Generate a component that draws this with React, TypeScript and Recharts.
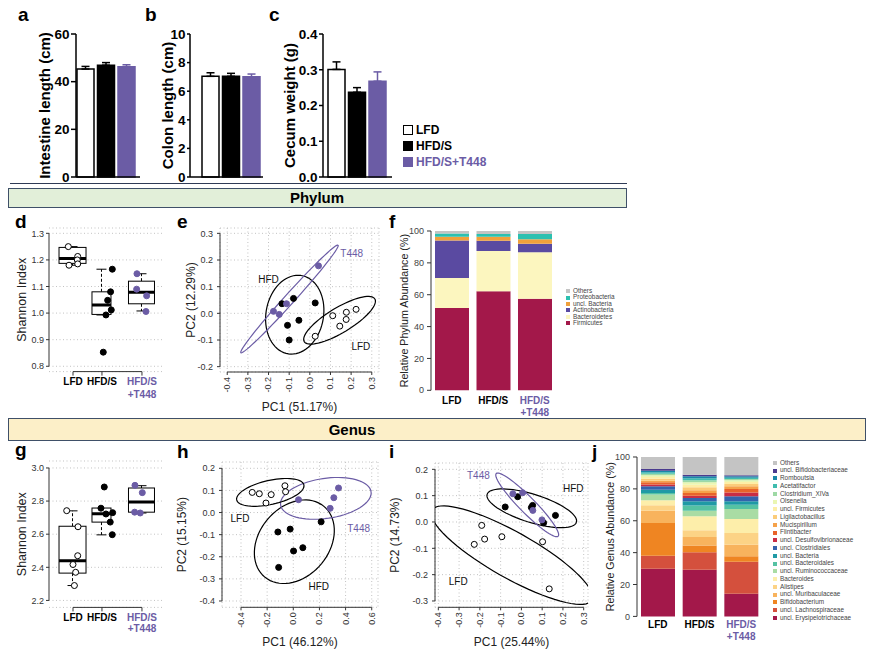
import React from 'react'
import {
  BarChart, Bar, ErrorBar, XAxis, YAxis, CartesianGrid, Legend,
  ScatterChart, Scatter, ComposedChart, ReferenceLine, ReferenceDot,
} from 'recharts'

const PURPLE = '#6b5ca5'
const INK = '#333'
const GRID = '#c2c2c2'

// groups
const GROUPS = ['LFD', 'HFD/S', 'HFD/S+T448']
const GROUP_LINES = [['LFD'], ['HFD/S'], ['HFD/S', '+T448']]
const GROUP_TEXT = ['#000', '#000', PURPLE]
const BAR_FILL = ['#fff', '#000', PURPLE]
const BAR_STROKE = ['#000', '#000', PURPLE]

// a-c
const INTESTINE = [45.3, 46.9, 46.3]
const INTESTINE_SEM = [1.1, 1.1, 0.8]
const COLON = [7.04, 7.04, 7.01]
const COLON_SEM = [0.25, 0.21, 0.19]
const CECUM = [0.301, 0.237, 0.268]
const CECUM_SEM = [0.021, 0.013, 0.026]

// box plots: [lo, q1, median, q3, hi]
const GROUP_X = [1, 1.84, 3]
const BOX_W = [27, 19, 26]
const D_BOX = [[1.18, 1.187, 1.205, 1.247, 1.25], [0.993, 0.995, 1.03, 1.08, 1.165], [1.008, 1.035, 1.078, 1.12, 1.148]]
const D_LFD = [[0.864, 1.25], [1.136, 1.213], [1.125, 1.2], [0.884, 1.18], [1.136, 1.185]]
const D_HFD = [[2.14, 1.165], [2.09, 1.08], [2.005, 1.048], [2.11, 1.012], [1.956, 0.993], [1.878, 0.853]]
const D_T448 = [[2.855, 1.148], [2.846, 1.09], [3.136, 1.065], [3.116, 1.006]]
const D_TICKS = [0.8, 0.9, 1.0, 1.1, 1.2, 1.3]

const G_BOX = [[2.29, 2.365, 2.44, 2.648, 2.741], [2.596, 2.673, 2.723, 2.758, 2.758], [2.728, 2.733, 2.794, 2.879, 2.893]]
const G_LFD = [[0.817, 2.742], [1.145, 2.645], [1.136, 2.47], [1.0, 2.417], [1.077, 2.37], [1.04, 2.29]]
const G_HFD = [[1.907, 2.885], [1.811, 2.757], [1.956, 2.722], [2.15, 2.73], [2.08, 2.673], [2.139, 2.597]]
const G_T448 = [[2.797, 2.895], [3.01, 2.851], [2.788, 2.733], [2.95, 2.728]]
const G_TICKS = [2.2, 2.4, 2.6, 2.8, 3.0]

// PCA scores
const E_LFD = [[0.111, -0.009], [0.177, 0.004], [0.224, 0.015], [0.176, -0.023], [0.145, -0.048], [0.026, -0.086]]
const E_HFD = [[-0.135, 0.036], [-0.079, 0.056], [0.026, 0.039], [-0.108, -0.045], [-0.053, -0.026], [-0.1, -0.1]]
const E_T448 = [[0.042, 0.178], [-0.113, 0.036], [-0.176, 0.0075], [-0.148, -0.004]]
const H_LFD = [[-0.314, 0.091], [-0.26, 0.085], [-0.169, 0.081], [-0.209, 0.043], [-0.064, 0.121], [-0.059, 0.094]]
const H_HFD = [[0.213, -0.042], [-0.118, -0.088], [-0.024, -0.075], [0.073, -0.159], [0.002, -0.174], [-0.112, -0.248]]
const H_T448 = [[0.04, 0.058], [0.31, 0.067], [0.346, 0.111], [0.282, 0.019]]
const I_LFD = [[-0.191, -0.013], [-0.227, -0.085], [-0.177, -0.065], [-0.094, -0.056], [0.102, -0.075], [0.134, -0.254]]
const I_HFD = [[-0.078, 0.057], [-0.018, 0.096], [0.054, 0.063], [0.048, 0.055], [0.164, 0.025], [0.107, -0.003]]
const I_T448 = [[-0.041, 0.107], [0.006, 0.111], [0.055, 0.044], [0.099, 0.008]]

// ellipses: [cx, cy, ux, uy, vx, vy]
const E_ELL = [[-0.073, -0.005, 0.03, 0.147, 0.138, -0.015], [-0.0985, 0.054, 0.2355, 0.2018, 0.018, -0.0125], [0.144, -0.026, 0.171, 0.08, 0.031, -0.04]]
const H_ELL = [[0.008, -0.132, 0.205, 0.169, 0.227, -0.0846], [0.249, 0.064, 0.346, 0.03, 0.022, -0.0896], [-0.176, 0.091, 0.257, 0.034, 0.02, -0.053]]
const I_ELL = [[0.05, 0.052, 0.215, -0.053, -0.02, -0.051], [0.028, 0.065, 0.149, -0.119, -0.027, -0.021], [-0.046, -0.126, 0.385, -0.171, -0.054, -0.076]]
const ELL_COLOR = ['#000', PURPLE, '#000']

const E_XT = [-0.4, -0.3, -0.2, -0.1, 0, 0.1, 0.2, 0.3]
const E_YT = [-0.2, -0.1, 0, 0.1, 0.2, 0.3]
const H_XT = [-0.4, -0.2, 0, 0.2, 0.4, 0.6]
const H_YT = [-0.4, -0.3, -0.2, -0.1, 0, 0.1, 0.2]
const I_XT = [-0.4, -0.3, -0.2, -0.1, 0, 0.1, 0.2, 0.3]
const I_YT = [-0.3, -0.2, -0.1, 0, 0.1, 0.2]

// phylum
const PHY_NAMES = ['Firmicutes', 'Bacteroidetes', 'Actinobacteria', 'uncl. Bacteria', 'Proteobacteria', 'Others']
const PHY_COLORS = ['#a3184a', '#fcf6bf', '#5a4aa1', '#f0a03b', '#2cc0b0', '#c4c4c4']
const PHY_LFD = [51.7, 18.8, 23.6, 2.3, 2.1, 1.5]
const PHY_HFD = [62.1, 25.3, 6.5, 2.5, 1.7, 1.9]
const PHY_T448 = [57.5, 29.1, 5.4, 2.8, 3.3, 1.9]

// genus
const GEN_NAMES = [
  'uncl. Erysipelotrichaceae', 'uncl. Lachnospiraceae', 'Bifidobacterium', 'uncl. Muribaculaceae', 'Alistipes',
  'Bacteroides', 'uncl. Ruminococcaceae', 'uncl. Bacteroidales', 'uncl. Bacteria', 'uncl. Clostridiales',
  'uncl. Desulfovibrionaceae', 'Flintibacter', 'Mucispirillum', 'Ligilactobacillus', 'uncl. Firmicutes',
  'Olsenella', 'Clostridium_XIVa', 'Acetatifactor', 'Romboutsia', 'uncl. Bifidobacteriaceae', 'Others',
]
const GEN_COLORS = [
  '#a3184a', '#d4503d', '#ef8522', '#f8b35d', '#fcd386', '#fdeeaa', '#a9dca4', '#55c2a3', '#1f9aa5', '#3463ad',
  '#c92d45', '#e8632a', '#f5a24a', '#fbcc7a', '#fdeea6', '#eaf6b2', '#9ed9a5', '#3fbcae', '#1a87a8', '#4a3b8e', '#c4c4c4',
]
const GEN_LFD = [29.9, 8.2, 20.5, 7.7, 3.4, 3.1, 3.6, 1.0, 2.1, 2.1, 1.2, 1.3, 1.0, 1.3, 1.0, 1.1, 1.0, 0.9, 1.0, 1.1, 7.5]
const GEN_HFD = [29.3, 10.9, 4.2, 5.4, 4.2, 8.8, 3.5, 3.2, 2.7, 2.1, 1.4, 1.7, 1.7, 1.9, 1.6, 1.5, 1.3, 1.2, 1.3, 1.0, 11.1]
const GEN_T448 = [14.2, 20.1, 3.4, 7.3, 7.3, 8.8, 6.3, 2.7, 2.1, 3.1, 2.5, 2.1, 1.7, 1.5, 1.2, 1.1, 0.8, 0.8, 0.9, 0.6, 11.5]

const f1 = (v: number) => v.toFixed(1)
const toPts = (a: number[][]) => a.map(([x, y]) => ({ x, y }))
const ring = (e: number[]) =>
  Array.from({ length: 73 }, (_, k) => {
    const t = (k / 72) * 2 * Math.PI
    return { x: e[0] + Math.cos(t) * e[2] + Math.sin(t) * e[4], y: e[1] + Math.cos(t) * e[3] + Math.sin(t) * e[5] }
  })
const Dot = (fill: string, stroke: string) => (p: any) =>
  <circle cx={p.cx} cy={p.cy} r={3} fill={fill} stroke={stroke} strokeWidth={1} />

type M = { top: number; right: number; bottom: number; left: number }
function frame(x0: number, y0: number, x1: number, y1: number, yw: number, xh: number, m: M) {
  return {
    left: x0 - yw - m.left, top: y0 - m.top,
    width: x1 - x0 + yw + m.left + m.right, height: y1 - y0 + xh + m.top + m.bottom,
    margin: m, yw, xh,
  }
}

const RotTick = (p: any) => (
  <text x={p.x} y={p.y} transform={`rotate(-90 ${p.x} ${p.y})`} textAnchor="end" dy="0.33em" fontSize={9} fill={INK}>
    {f1(p.payload.value)}
  </text>
)

const groupTick = (dy0: number, lh: number, idx: (v: any) => number) => (p: any) => {
  const i = idx(p.payload.value)
  return (
    <text x={p.x} y={p.y} textAnchor="middle" fontSize={10} fontWeight="bold" fill={GROUP_TEXT[i]}>
      {GROUP_LINES[i].map((l, k) => <tspan key={k} x={p.x} dy={k === 0 ? dy0 : lh}>{l}</tspan>)}
    </text>
  )
}

function MeasureChart({ f, vals, sem, domain, ticks, fmt, title, titleX, pad, tickSize = 5, children }: any) {
  const row: any = { name: 'all' }
  GROUPS.forEach((_, i) => { row['v' + i] = vals[i]; row['e' + i] = [0, sem[i]] })
  return (
    <div style={{ position: 'absolute', left: f.left, top: f.top }}>
      <BarChart width={f.width} height={f.height} margin={f.margin} data={[row]} barGap={3.5}>
        <XAxis dataKey="name" tick={false} tickLine={false} height={f.xh} axisLine={{ stroke: '#000', strokeWidth: 1.5 }} padding={pad} />
        <YAxis domain={domain} ticks={ticks} interval={0} width={f.yw} tickSize={tickSize} tickMargin={1.5} tickFormatter={fmt}
          axisLine={{ stroke: '#000', strokeWidth: 1.5 }} tickLine={{ stroke: '#000', strokeWidth: 1.5 }}
          tick={{ fontSize: 13.5, fontWeight: 'bold', fill: '#000' }}
          label={{ value: title, angle: -90, position: 'insideLeft', offset: titleX - f.left - f.margin.left, style: { textAnchor: 'middle', fontWeight: 'bold', fontSize: 15, fill: '#000' } }} />
        {GROUPS.map((g, i) => (
          <Bar key={g} dataKey={'v' + i} name={g} fill={BAR_FILL[i]} stroke={BAR_STROKE[i]} strokeWidth={1.5} barSize={17} isAnimationActive={false}>
            <ErrorBar dataKey={'e' + i} width={4} strokeWidth={1.5} stroke={BAR_STROKE[i]} direction="y" isAnimationActive={false} />
          </Bar>
        ))}
        {children}
      </BarChart>
    </div>
  )
}

const BoxShape = (p: any) => {
  const { x, y, width, height, index } = p
  const s = p.payload.s
  const k = height / (s[3] - s[1])
  const yv = (v: number) => y + (s[3] - v) * k
  const cx = x + width / 2
  const bw = BOX_W[index]
  const cap = 10
  return (
    <g>
      {s[4] > s[3] && <line x1={cx} x2={cx} y1={yv(s[3])} y2={yv(s[4])} stroke="#000" strokeDasharray="3 2" />}
      {s[4] > s[3] && <line x1={cx - cap / 2} x2={cx + cap / 2} y1={yv(s[4])} y2={yv(s[4])} stroke="#000" />}
      {s[0] < s[1] && <line x1={cx} x2={cx} y1={yv(s[1])} y2={yv(s[0])} stroke="#000" strokeDasharray="3 2" />}
      {s[0] < s[1] && <line x1={cx - cap / 2} x2={cx + cap / 2} y1={yv(s[0])} y2={yv(s[0])} stroke="#000" />}
      <rect x={cx - bw / 2} y={y} width={bw} height={height} fill="#fff" stroke="#000" strokeWidth={1} />
      <line x1={cx - bw / 2} x2={cx + bw / 2} y1={yv(s[2])} y2={yv(s[2])} stroke="#000" strokeWidth={3} />
    </g>
  )
}

const BOX_XD = [0.304, 3.61]

function BoxChart({ f, yd, yt, box, sets, title, titleX, dy0, lh }: any) {
  const rows = GROUP_X.map((pos, i) => ({ pos, box: [box[i][1], box[i][3]], s: box[i] }))
  return (
    <div style={{ position: 'absolute', left: f.left, top: f.top }}>
      <ComposedChart width={f.width} height={f.height} margin={f.margin} data={rows}>
        <CartesianGrid vertical={false} stroke={GRID} strokeDasharray="1 2.5" />
        <XAxis type="number" dataKey="pos" domain={BOX_XD} ticks={GROUP_X} interval={0} allowDataOverflow axisLine={false}
          tickLine={{ stroke: INK }} tickSize={4} tickMargin={0} height={f.xh}
          tick={groupTick(dy0, lh, (v) => GROUP_X.indexOf(v))} />
        <XAxis xAxisId="p" type="number" dataKey="x" domain={BOX_XD} allowDataOverflow hide />
        <YAxis type="number" domain={yd} ticks={yt} interval={0} allowDataOverflow axisLine={false}
          tickLine={{ stroke: INK }} tickSize={3} tickMargin={2} tick={{ fontSize: 9, fill: INK }} tickFormatter={f1} width={f.yw}
          label={{ value: title, angle: -90, position: 'insideLeft', offset: titleX - f.left - f.margin.left, fontSize: 12.5, fill: '#222', style: { textAnchor: 'middle' } }} />
        <ReferenceLine segment={[{ x: BOX_XD[0], y: yt[0] }, { x: BOX_XD[0], y: yt[yt.length - 1] }]} stroke={INK} ifOverflow="visible" />
        <ReferenceLine segment={[{ x: GROUP_X[0], y: yd[0] }, { x: GROUP_X[2], y: yd[0] }]} stroke={INK} ifOverflow="visible" />
        <Bar dataKey="box" shape={BoxShape} barSize={20} isAnimationActive={false} />
        {sets.map((st: any, i: number) => (
          <Scatter key={i} xAxisId="p" data={toPts(st.pts)} dataKey="y" shape={Dot(st.fill, st.stroke)} isAnimationActive={false} />
        ))}
      </ComposedChart>
    </div>
  )
}

function PcaChart({ f, xd, yd, xt, yt, xTitle, yTitle, yTitleX, sets, ells, labels }: any) {
  return (
    <div style={{ position: 'absolute', left: f.left, top: f.top }}>
      <ScatterChart width={f.width} height={f.height} margin={f.margin}>
        <CartesianGrid stroke={GRID} strokeDasharray="1 2.5" />
        <XAxis type="number" dataKey="x" domain={xd} ticks={xt} interval={0} allowDataOverflow axisLine={false}
          tickLine={{ stroke: INK }} tickSize={3} tickMargin={2} tick={RotTick} height={f.xh}
          label={{ value: xTitle, position: 'insideBottom', offset: 5, fontSize: 12, fill: '#222' }} />
        <YAxis type="number" dataKey="y" domain={yd} ticks={yt} interval={0} allowDataOverflow axisLine={false}
          tickLine={{ stroke: INK }} tickSize={3} tickMargin={4} tick={{ fontSize: 9, fill: INK }} tickFormatter={f1} width={f.yw}
          label={{ value: yTitle, angle: -90, position: 'insideLeft', offset: yTitleX - f.left - f.margin.left, fontSize: 12, fill: '#222', style: { textAnchor: 'middle' } }} />
        <ReferenceLine segment={[{ x: xd[0], y: yt[0] }, { x: xd[0], y: yt[yt.length - 1] }]} stroke={INK} ifOverflow="visible" />
        <ReferenceLine segment={[{ x: xt[0], y: yd[0] }, { x: xt[xt.length - 1], y: yd[0] }]} stroke={INK} ifOverflow="visible" />
        {ells.map((e: number[], i: number) => (
          <Scatter key={'e' + i} data={ring(e)} line={{ stroke: ELL_COLOR[i], strokeWidth: 1.2 }} lineType="joint" shape={() => <g />} isAnimationActive={false} />
        ))}
        {sets.map((st: any, i: number) => (
          <Scatter key={'s' + i} data={toPts(st.pts)} shape={Dot(st.fill, st.stroke)} isAnimationActive={false} />
        ))}
        {labels.map((l: any, i: number) => (
          <ReferenceDot key={'l' + i} x={l.x} y={l.y} r={0} fill="none" stroke="none" ifOverflow="visible"
            label={{ value: l.text, position: 'center', fill: l.color, fontSize: 10 }} />
        ))}
      </ScatterChart>
    </div>
  )
}

const StackLegend = ({ names, colors, rowH, fs }: any) => (
  <div>
    {names.map((_: string, k: number) => names.length - 1 - k).map((k: number) => (
      <div key={k} style={{ display: 'flex', alignItems: 'center', height: rowH, fontSize: fs, color: '#444', whiteSpace: 'nowrap', lineHeight: 1 }}>
        <span style={{ width: 4, height: 4, background: colors[k], marginRight: 3, flex: 'none' }} />
        {names[k]}
      </div>
    ))}
  </div>
)

function StackChart({ f, names, colors, series, title, titleX, dy0, lh, legendPos, rowH }: any) {
  const rows = GROUPS.map((g, i) => ({ name: g, v: series[i] }))
  return (
    <div style={{ position: 'absolute', left: f.left, top: f.top }}>
      <BarChart width={f.width} height={f.height} margin={f.margin} data={rows}>
        <XAxis dataKey="name" axisLine={false} tickLine={false} tickSize={0} tickMargin={0} height={f.xh} interval={0}
          tick={groupTick(dy0, lh, (v) => GROUPS.indexOf(v))} />
        <YAxis domain={[0, 100]} ticks={[0, 20, 40, 60, 80, 100]} interval={0} width={f.yw} tickSize={4} tickMargin={3}
          axisLine={{ stroke: INK }} tickLine={{ stroke: INK }} tick={{ fontSize: 9, fill: '#444' }}
          label={{ value: title, angle: -90, position: 'insideLeft', offset: titleX - f.left - f.margin.left, fontSize: 10.7, fill: '#222', style: { textAnchor: 'middle' } }} />
        {names.map((n: string, k: number) => (
          <Bar key={n} dataKey={(r: any) => r.v[k]} name={n} stackId="s" fill={colors[k]} barSize={34} isAnimationActive={false} />
        ))}
        <Legend layout="vertical" align="center" verticalAlign="middle"
          wrapperStyle={{ left: legendPos[0] - f.left, top: legendPos[1] - f.top, width: 'auto', height: 'auto' }}
          content={() => <StackLegend names={names} colors={colors} rowH={rowH} fs={6.4} />} />
      </BarChart>
    </div>
  )
}

const FA = frame(76, 34, 140, 177, 40, 2, { top: 10, right: 4, bottom: 10, left: 6 })
const FB = frame(190, 34, 263, 177, 44, 2, { top: 10, right: 4, bottom: 10, left: 6 })
const FC = frame(323, 34, 392, 177, 45, 2, { top: 10, right: 110, bottom: 10, left: 6 })
const FD = frame(49, 227.7, 163, 371.3, 30, 32, { top: 4, right: 4, bottom: 2, left: 10 })
const FE = frame(220, 228, 379, 372, 35, 44, { top: 4, right: 6, bottom: 2, left: 6 })
const FF = frame(430.5, 230.7, 555, 390, 31, 28, { top: 6, right: 75, bottom: 2, left: 6 })
const FG = frame(49, 461.3, 163, 607.7, 30, 32, { top: 4, right: 4, bottom: 2, left: 10 })
const FH = frame(222, 462, 378, 607.3, 48, 44, { top: 4, right: 6, bottom: 2, left: 4 })
const FI = frame(435, 463, 588, 607.3, 48, 44, { top: 4, right: 6, bottom: 2, left: 4 })
const FJ = frame(637, 457.3, 762, 616.7, 30, 28, { top: 6, right: 110, bottom: 2, left: 6 })

const SETS = (l: number[][], h: number[][], t: number[][]) => [
  { pts: l, fill: '#fff', stroke: '#000' },
  { pts: h, fill: '#000', stroke: '#000' },
  { pts: t, fill: PURPLE, stroke: PURPLE },
]

const LETTERS: [string, number, number][] = [
  ['a', 18, 21], ['b', 145, 21], ['c', 269, 21],
  ['d', 15, 228], ['e', 177, 228], ['f', 389, 228],
  ['g', 15, 456], ['h', 177, 458], ['i', 389, 458], ['j', 592, 458],
]

export default function App() {
  const ff = "'Liberation Sans', Arial, sans-serif"
  const narrow = "'Liberation Sans Narrow', 'Liberation Sans', sans-serif"
  return (
    <div style={{ position: 'absolute', left: 0, top: 0, width: 877, height: 658, background: '#fff', fontFamily: ff }}>
      <svg width={877} height={658} style={{ position: 'absolute', left: 0, top: 0 }}>
        <line x1={10} x2={627} y1={183.5} y2={183.5} stroke="#2f3b55" strokeWidth={1} />
        <rect x={8.5} y={188.5} width={618} height={19} fill="#e2efd9" stroke="#3f5068" strokeWidth={1} />
        <text x={317} y={203} textAnchor="middle" fontSize={15} fontWeight="bold" fontFamily={narrow}>Phylum</text>
        <rect x={8.5} y={418.5} width={857} height={22} fill="#fcefc8" stroke="#3f5068" strokeWidth={1} />
        <text x={352} y={435} textAnchor="middle" fontSize={15} fontWeight="bold" fontFamily={narrow}>Genus</text>
        {LETTERS.map(([t, x, y]) => (
          <text key={t} x={x} y={y} fontSize={19} fontWeight="bold" fontFamily={narrow}>{t}</text>
        ))}
      </svg>

      <MeasureChart f={FA} vals={INTESTINE} sem={INTESTINE_SEM} domain={[0, 60]} ticks={[0, 20, 40, 60]} fmt={(v: number) => String(v)}
        title="Intestine length (cm)" titleX={44.5} pad={{ left: 0, right: 5 }} />
      <MeasureChart f={FB} vals={COLON} sem={COLON_SEM} domain={[0, 10]} ticks={[0, 2, 4, 6, 8, 10]} fmt={(v: number) => String(v)}
        title="Colon length (cm)" titleX={167.5} pad={{ left: 9, right: 1 }} tickSize={3} />
      <MeasureChart f={FC} vals={CECUM} sem={CECUM_SEM} domain={[0, 0.4]} ticks={[0, 0.1, 0.2, 0.3, 0.4]} fmt={f1}
        title="Cecum weight (g)" titleX={290} pad={{ left: 2, right: 3 }} tickSize={4}>
        <Legend layout="vertical" align="center" verticalAlign="middle"
          wrapperStyle={{ left: 403 - FC.left, top: 122 - FC.top, width: 'auto', height: 'auto' }}
          content={() => (
            <div>
              {GROUPS.map((g, i) => (
                <div key={g} style={{ display: 'flex', alignItems: 'center', height: 16, fontSize: 12, fontWeight: 'bold', color: GROUP_TEXT[i], whiteSpace: 'nowrap' }}>
                  <span style={{ width: 8, height: 8, background: BAR_FILL[i], border: `1.5px solid ${BAR_STROKE[i]}`, marginRight: 3, flex: 'none' }} />
                  {g}
                </div>
              ))}
            </div>
          )} />
      </MeasureChart>

      <BoxChart f={FD} yd={[0.78, 1.32]} yt={D_TICKS} box={D_BOX} sets={SETS(D_LFD, D_HFD, D_T448)}
        title="Shannon Index" titleX={21.7} dy0={9} lh={13.3} />
      <PcaChart f={FE} xd={[-0.435, 0.335]} yd={[-0.22, 0.32]} xt={E_XT} yt={E_YT}
        xTitle="PC1 (51.17%)" yTitle="PC2 (12.29%)" yTitleX={190.7}
        sets={SETS(E_LFD, E_HFD, E_T448)} ells={E_ELL}
        labels={[{ x: 0.203, y: 0.225, text: 'T448', color: PURPLE }, { x: -0.2, y: 0.128, text: 'HFD', color: '#111' }, { x: 0.247, y: -0.125, text: 'LFD', color: '#111' }]} />
      <StackChart f={FF} names={PHY_NAMES} colors={PHY_COLORS} series={[PHY_LFD, PHY_HFD, PHY_T448]}
        title="Relative Phylum Abundance (%)" titleX={404} dy0={13.5} lh={12} legendPos={[566, 288]} rowH={6.4} />

      <BoxChart f={FG} yd={[2.158, 3.042]} yt={G_TICKS} box={G_BOX} sets={SETS(G_LFD, G_HFD, G_T448)}
        title="Shannon Index" titleX={22} dy0={9.2} lh={11.5} />
      <PcaChart f={FH} xd={[-0.5454, 0.648]} yd={[-0.4285, 0.2285]} xt={H_XT} yt={H_YT}
        xTitle="PC1 (46.12%)" yTitle="PC2 (15.15%)" yTitleX={181.7}
        sets={SETS(H_LFD, H_HFD, H_T448)} ells={H_ELL}
        labels={[{ x: 0.5, y: -0.071, text: 'T448', color: PURPLE }, { x: 0.195, y: -0.332, text: 'HFD', color: '#111' }, { x: -0.408, y: -0.029, text: 'LFD', color: '#111' }]} />
      <PcaChart f={FI} xd={[-0.416, 0.3207]} yd={[-0.324, 0.224]} xt={I_XT} yt={I_YT}
        xTitle="PC1 (25.44%)" yTitle="PC2 (14.73%)" yTitleX={395}
        sets={SETS(I_LFD, I_HFD, I_T448)} ells={I_ELL}
        labels={[{ x: -0.207, y: 0.178, text: 'T448', color: PURPLE }, { x: 0.25, y: 0.128, text: 'HFD', color: '#111' }, { x: -0.304, y: -0.227, text: 'LFD', color: '#111' }]} />
      <StackChart f={FJ} names={GEN_NAMES} colors={GEN_COLORS} series={[GEN_LFD, GEN_HFD, GEN_T448]}
        title="Relative Genus Abundance (%)" titleX={610} dy0={12} lh={11.7} legendPos={[773, 459]} rowH={7.75} />
    </div>
  )
}
